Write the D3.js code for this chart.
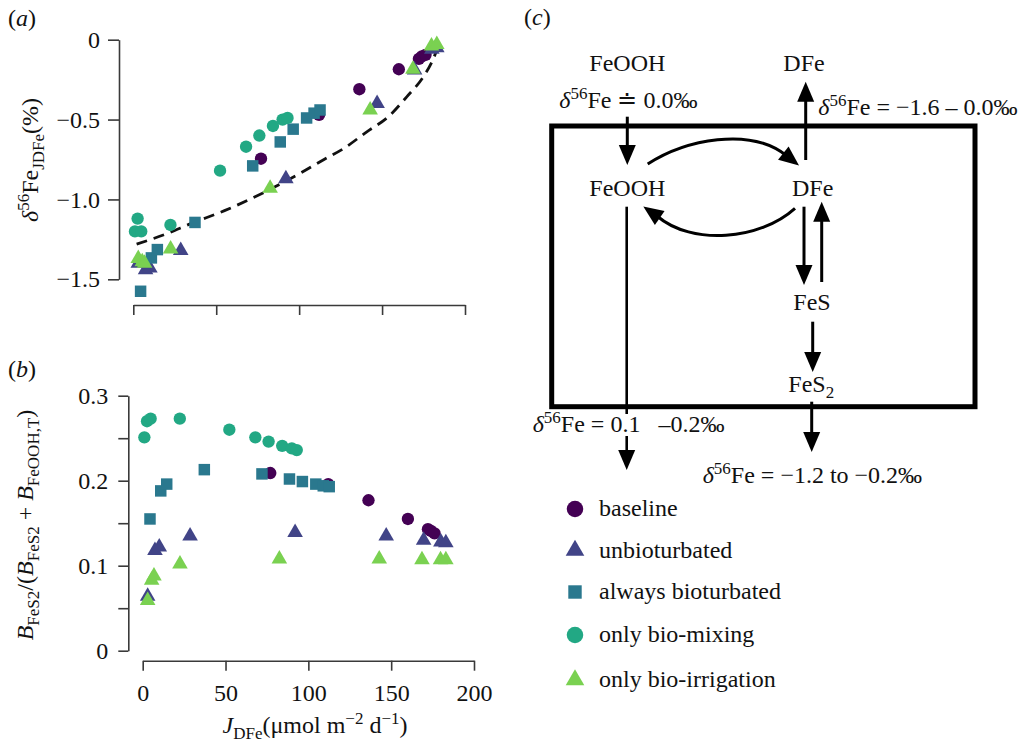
<!DOCTYPE html>
<html><head><meta charset="utf-8">
<script src="https://cdn.jsdelivr.net/npm/d3@7"></script>
<style>
body{margin:0;background:#fff}
svg{display:block}
text{font-family:"Liberation Serif","Times New Roman",serif;fill:#111}
</style>
</head><body>
<svg id="chart" width="1023" height="744"></svg>
<script>
// ---------------- data ----------------
const scenarios = ["baseline", "unbioturbated", "always bioturbated", "only bio-mixing", "only bio-irrigation"];
const colors = ["#440154", "#414487", "#2a788e", "#22a884", "#7ad151"];
const shapes = ["circle", "triangle", "square", "circle", "triangle"];

// J_DFe (umol m-2 d-1) for each scenario
const jBaseline = [77, 112, 136.3, 160.1, 172.2, 174, 176.2];
const jUnbioturbated = [3, 7.4, 10, 28.6, 92, 147, 169.6, 180, 183];
const jAlways = [4.4, 10.9, 14.5, 37.2, 72, 88.6, 96.4, 104.5, 109, 112.6];
const jMixing = [1, 2.6, 4.8, 22.4, 52.3, 68, 76, 84.2, 90, 93];
const jIrrigation = [3, 5.4, 6.8, 22.5, 82.5, 142.8, 168.6, 179.8, 183];

// panel (a): delta56Fe of J_DFe (permil)
const dBaseline = [-0.745, -0.47, -0.31, -0.185, -0.12, -0.105, -0.095];
const dUnbioturbated = [-1.40, -1.44, -1.43, -1.32, -0.87, -0.40, -0.19, -0.06, -0.05];
const dAlways = [-1.575, -1.366, -1.314, -1.144, -0.79, -0.64, -0.56, -0.49, -0.46, -0.44];
const dMixing = [-1.20, -1.12, -1.20, -1.16, -0.82, -0.67, -0.60, -0.54, -0.50, -0.49];
const dIrrigation = [-1.37, -1.39, -1.40, -1.31, -0.93, -0.44, -0.185, -0.04, -0.03];

// panel (b): B_FeS2 / (B_FeS2 + B_FeOOH,T)
const bBaseline = [0.209, 0.196, 0.177, 0.155, 0.143, 0.141, 0.138];
const bUnbioturbated = [0.064, 0.118, 0.122, 0.135, 0.139, 0.135, 0.130, 0.128, 0.127];
const bAlways = [0.155, 0.188, 0.196, 0.213, 0.208, 0.202, 0.199, 0.196, 0.194, 0.193];
const bMixing = [0.251, 0.270, 0.273, 0.273, 0.260, 0.251, 0.246, 0.241, 0.238, 0.236];
const bIrrigation = [0.059, 0.083, 0.088, 0.102, 0.108, 0.108, 0.107, 0.107, 0.107];

// dashed trend curve in panel (a)
const trendJ = [2, 20, 35, 55, 80, 100, 115, 127, 141, 154, 165, 175, 180, 185];
const trendD = [-1.28, -1.215, -1.15, -1.07, -0.95, -0.84, -0.75, -0.68, -0.575, -0.48, -0.356, -0.23, -0.14, -0.01];

// tick labels
const xTicks = [0, 50, 100, 150, 200];
const aYTicks = [0, -0.5, -1.0, -1.5];
const bYTicks = [0, 0.05, 0.1, 0.15, 0.2, 0.25, 0.3];
const bYLabels = {0: "0", 0.1: "0.1", 0.2: "0.2", 0.3: "0.3"};

const jSeries = [jBaseline, jUnbioturbated, jAlways, jMixing, jIrrigation];
const dSeries = [dBaseline, dUnbioturbated, dAlways, dMixing, dIrrigation];
const bSeries = [bBaseline, bUnbioturbated, bAlways, bMixing, bIrrigation];

// ---------------- drawing ----------------
const svg = d3.select("#chart");
const FS = 24, SUB = 17;

function rich(sel, parts) {
  let off = 0;
  parts.forEach(([t, m]) => {
    const ts = sel.append("tspan").text(t);
    let target = 0;
    if (m === "sup") { ts.attr("font-size", SUB); target = -9; }
    else if (m === "sub") { ts.attr("font-size", SUB); target = 6; }
    else { ts.attr("font-size", FS); }
    if (m === "i") ts.attr("font-style", "italic");
    if (target !== off) { ts.attr("dy", target - off); off = target; }
  });
  return sel;
}

function symbolFor(shape, big) {
  const sizes = big ? {circle: 215, triangle: 150, square: 180} : {circle: 120, triangle: 105, square: 132};
  const type = shape === "circle" ? d3.symbolCircle : shape === "triangle" ? d3.symbolTriangle : d3.symbolSquare;
  return d3.symbol().type(type).size(sizes[shape])();
}

function styleAxis(g) {
  g.selectAll(".domain").attr("stroke", "#3a3a3a").attr("stroke-width", 1.6);
  g.selectAll(".tick line").attr("stroke", "#3a3a3a").attr("stroke-width", 1.6);
  g.selectAll(".tick text").attr("font-size", FS).attr("fill", "#111");
}

// ----- panel (a) -----
const xa = d3.scaleLinear().domain([0, 200]).range([133.3, 465]);
const ya = d3.scaleLinear().domain([-1.5, 0]).range([279.3, 39.7]);

const gaY = svg.append("g").attr("transform", "translate(119,0)")
  .call(d3.axisLeft(ya).tickValues(aYTicks).tickSize(11).tickSizeOuter(0).tickPadding(8)
    .tickFormat(d => d === 0 ? "0" : d3.format(".1f")(d).replace("-", "\u2212")));
styleAxis(gaY);
const gaX = svg.append("g").attr("transform", "translate(0,305)")
  .call(d3.axisBottom(xa).tickValues(xTicks).tickSize(10).tickSizeOuter(0).tickFormat(""));
styleAxis(gaX);

const trend = trendJ.map((j, i) => [j, trendD[i]]);
svg.append("path").datum(trend)
  .attr("d", d3.line().x(d => xa(d[0])).y(d => ya(d[1])).curve(d3.curveMonotoneX))
  .attr("fill", "none").attr("stroke", "#111").attr("stroke-width", 2.8).attr("stroke-dasharray", "11,7");

scenarios.forEach((s, k) => {
  svg.append("g").selectAll("path").data(jSeries[k].map((j, i) => [j, dSeries[k][i]])).join("path")
    .attr("d", symbolFor(shapes[k]))
    .attr("transform", d => `translate(${xa(d[0])},${ya(d[1])})`)
    .attr("fill", colors[k]);
});

svg.append("text").attr("x", 8).attr("y", 26).call(rich, [["(", ""], ["a", "i"], [")", ""]]);
svg.append("text").attr("transform", "translate(38,160) rotate(-90)").attr("text-anchor", "middle")
  .call(rich, [["\u03b4", "i"], ["56", "sup"], ["Fe", ""], ["JDFe", "sub"], ["(%)", ""]]);

// ----- panel (b) -----
const xb = d3.scaleLinear().domain([0, 200]).range([142.7, 474]);
const yb = d3.scaleLinear().domain([0, 0.3]).range([650.7, 395.7]);

const gbY = svg.append("g").attr("transform", "translate(128.3,0)")
  .call(d3.axisLeft(yb).tickValues(bYTicks).tickSize(10).tickSizeOuter(0).tickPadding(10)
    .tickFormat(d => { const k = Object.keys(bYLabels).find(v => Math.abs(+v - d) < 1e-9); return k !== undefined ? bYLabels[k] : ""; }));
styleAxis(gbY);
const gbX = svg.append("g").attr("transform", "translate(0,660.7)")
  .call(d3.axisBottom(xb).tickValues(xTicks).tickSize(10).tickSizeOuter(0).tickPadding(13).tickFormat(d3.format("d")));
styleAxis(gbX);

scenarios.forEach((s, k) => {
  svg.append("g").selectAll("path").data(jSeries[k].map((j, i) => [j, bSeries[k][i]])).join("path")
    .attr("d", symbolFor(shapes[k]))
    .attr("transform", d => `translate(${xb(d[0])},${yb(d[1])})`)
    .attr("fill", colors[k]);
});

svg.append("text").attr("x", 8).attr("y", 377).call(rich, [["(", ""], ["b", "i"], [")", ""]]);
svg.append("text").attr("transform", "translate(33,525) rotate(-90)").attr("text-anchor", "middle")
  .call(rich, [["B", "i"], ["FeS2", "sub"], ["/(", ""], ["B", "i"], ["FeS2", "sub"], [" + ", ""], ["B", "i"], ["FeOOH,T", "sub"], [")", ""]]);
svg.append("text").attr("x", 315).attr("y", 733).attr("text-anchor", "middle")
  .call(rich, [["J", "i"], ["DFe", "sub"], ["(\u03bcmol m", ""], ["\u22122", "sup"], ["\u00a0d", ""], ["\u22121", "sup"], [")", ""]]);

// ----- legend -----
const legY = [509, 550.5, 592, 635, 680];
scenarios.forEach((s, k) => {
  svg.append("path").attr("d", symbolFor(shapes[k], true))
    .attr("transform", `translate(575,${legY[k]})`).attr("fill", colors[k]);
  svg.append("text").attr("x", 599).attr("y", legY[k] + 7).attr("font-size", FS).text(s);
});

// ----- panel (c) schematic -----
const c = svg.append("g");
c.append("text").attr("x", 524).attr("y", 25).call(rich, [["(", ""], ["c", "i"], [")", ""]]);
c.append("rect").attr("x", 551.7).attr("y", 126).attr("width", 423.3).attr("height", 280.7)
  .attr("fill", "none").attr("stroke", "#000").attr("stroke-width", 5);

function head(tx, ty, ang, L = 20, W = 17) {
  const ux = Math.cos(ang), uy = Math.sin(ang), px = -uy, py = ux;
  const bx = tx - ux * L, by = ty - uy * L;
  c.append("path").attr("d", `M${tx},${ty}L${bx + px * W / 2},${by + py * W / 2}L${bx - px * W / 2},${by - py * W / 2}Z`).attr("fill", "#000");
}
function arrow(x1, y1, x2, y2, w = 3) {
  const ang = Math.atan2(y2 - y1, x2 - x1);
  c.append("line").attr("x1", x1).attr("y1", y1)
    .attr("x2", x2 - Math.cos(ang) * 14).attr("y2", y2 - Math.sin(ang) * 14)
    .attr("stroke", "#000").attr("stroke-width", w);
  head(x2, y2, ang);
}
function curved(p0, c1, c2, p3, tip, w = 3) {
  c.append("path").attr("d", `M${p0}C${c1} ${c2} ${p3}`).attr("fill", "none").attr("stroke", "#000").attr("stroke-width", w);
  head(tip[0], tip[1], Math.atan2(tip[1] - p3[1], tip[0] - p3[0]));
}

arrow(627.3, 116.7, 627.3, 165);
arrow(805.7, 160, 805.7, 81.7);
arrow(804, 206.7, 804, 285);
arrow(821.7, 282, 821.7, 201.7);
arrow(812.7, 321.7, 812.7, 372);
arrow(626.7, 206.7, 626.7, 470, 2.6);
arrow(811.7, 401.7, 811.7, 452);
curved([647.7, 164], [685, 140], [750, 126], [787, 156], [799, 165.5]);
curved([795, 208.3], [760, 240], [692, 246], [657, 216], [643.3, 206.5]);

c.append("rect").attr("x", 600).attr("y", 414).attr("width", 60).attr("height", 22).attr("fill", "#fff");

function label(x, y, parts, anchor = "start") {
  return c.append("text").attr("x", x).attr("y", y).attr("text-anchor", anchor).call(rich, parts);
}
label(627.3, 70.5, [["FeOOH", ""]], "middle");
label(804, 70.5, [["DFe", ""]], "middle");
label(559.3, 108.3, [["\u03b4", "i"], ["56", "sup"], ["Fe \u2250 0.0\u2030", ""]]);
label(818.3, 115, [["\u03b4", "i"], ["56", "sup"], ["Fe = \u22121.6 \u2013 0.0\u2030", ""]]);
label(627.3, 196, [["FeOOH", ""]], "middle");
label(812.7, 196, [["DFe", ""]], "middle");
label(812, 310, [["FeS", ""]], "middle");
label(788.3, 391.7, [["FeS", ""], ["2", "sub"]]);
label(532.7, 431.7, [["\u03b4", "i"], ["56", "sup"], ["Fe = 0.1\u00a0\u00a0\u00a0\u2013\u20090.2\u2030".replace("\u2009", ""), ""]]);
label(702.7, 482.7, [["\u03b4", "i"], ["56", "sup"], ["Fe = \u22121.2 to \u22120.2\u2030", ""]]);
</script>
</body></html>
